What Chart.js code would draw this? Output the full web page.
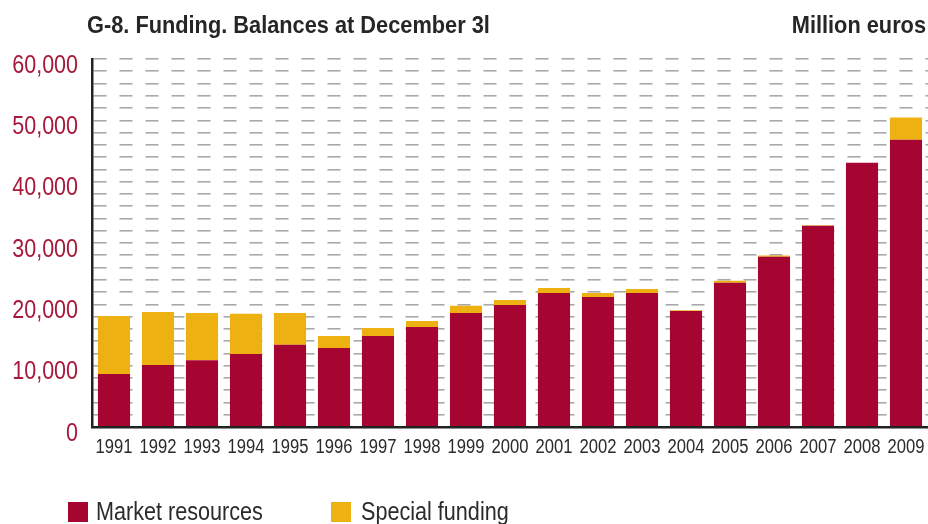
<!DOCTYPE html>
<html>
<head>
<meta charset="utf-8">
<script src="https://cdn.jsdelivr.net/npm/chart.js@4"></script>
<style>
  body { margin: 0; background: #fff; font-family: 'Liberation Sans', Arial, sans-serif; }
  #wrap { position: relative; width: 928px; height: 524px; overflow: hidden; }
  #chart { position: absolute; left: 0; top: 0; }
  .title { position: absolute; top: 13px; font-weight: bold; font-size: 24px; line-height: 1; color: #262626; white-space: nowrap; }
  .item { position: absolute; white-space: nowrap; }
  .box { position: absolute; top: 502px; width: 19.5px; height: 19.5px; }
  .lbl { position: absolute; top: 499px; font-size: 25px; line-height: 1; color: #2b2b2b; white-space: nowrap; transform: scaleX(0.864); transform-origin: left top; }
</style>
</head>
<body>
<div id="wrap">
  <canvas id="chart" width="928" height="524"></canvas>
  <div class="title" style="left:87px; transform: scaleX(0.907); transform-origin: left top;">G-8. Funding. Balances at December 3l</div>
  <div class="title" style="right:2px; transform: scaleX(0.907); transform-origin: right top;">Million euros</div>
  <div id="legend"></div>
</div>
<script>
// Balances at December 31, million euros
const years = ['1991', '1992', '1993', '1994', '1995', '1996', '1997', '1998', '1999', '2000',
               '2001', '2002', '2003', '2004', '2005', '2006', '2007', '2008', '2009'];
const marketResources = [8650, 10100, 10900, 11900, 13400, 12900, 14850, 16300, 18600, 19900,
                         21850, 21200, 21850, 18900, 23500, 27750, 32800, 43100, 46850];
const specialFunding = [9450, 8650, 7700, 6550, 5200, 1950, 1300, 1000, 1150, 800,
                        800, 650, 650, 150, 350, 200, 100, 0, 3600];
const yTicks = [0, 10000, 20000, 30000, 40000, 50000, 60000];

const seriesNames = ['Market resources', 'Special funding'];
const seriesColors = ['#a60532', '#edb111'];

const ctx = document.getElementById('chart').getContext('2d');
const family = "'Liberation Sans', Arial, sans-serif";

// draw text squeezed horizontally (the axis labels use a narrow face)
function narrowText(c, text, x, y, squeeze) {
    c.save();
    c.translate(x, y);
    c.scale(squeeze, 1);
    c.fillText(text, 0, 0);
    c.restore();
}

// tick labels, placed from the chart's own scales
const narrowTicks = {
    id: 'narrowTicks',
    afterDraw(chart) {
        const c = chart.ctx;
        const xs = chart.scales.x;
        const ys = chart.scales.y;
        c.save();
        c.textBaseline = 'alphabetic';

        c.fillStyle = '#2b2b2b';
        c.font = `20px ${family}`;
        c.textAlign = 'center';
        xs.ticks.forEach((t, i) => {
            narrowText(c, xs.getLabelForValue(t.value), xs.getPixelForTick(i), 453, 0.83);
        });

        c.fillStyle = '#a8183a';
        c.font = `25px ${family}`;
        c.textAlign = 'right';
        ys.ticks.forEach(t => {
            if (!yTicks.includes(t.value)) return;
            narrowText(c, t.value.toLocaleString('en-US'), 78, ys.getPixelForValue(t.value) + 13.5, 0.86);
        });
        c.restore();
    }
};

const myChart = new Chart(ctx, {
    type: 'bar',
    data: {
        labels: years,
        datasets: [
            { label: seriesNames[0], data: marketResources, backgroundColor: seriesColors[0] },
            { label: seriesNames[1], data: specialFunding, backgroundColor: seriesColors[1] }
        ]
    },
    options: {
        responsive: false,
        animation: false,
        layout: { padding: { top: 59, left: 0, right: 0, bottom: 0 } },
        datasets: { bar: { barPercentage: 0.73, categoryPercentage: 1 } },
        plugins: {
            legend: { display: false },
            tooltip: { enabled: false }
        },
        scales: {
            x: {
                stacked: true,
                grid: { display: false },
                border: { display: true, color: '#222', width: 2.5, z: 1 },
                ticks: { display: false, autoSkip: false },
                afterFit: s => { s.height = 97; }
            },
            y: {
                stacked: true,
                min: 0,
                max: yTicks[yTicks.length - 1],
                grid: { color: '#a9a9a9', lineWidth: 1.6, drawTicks: false },
                border: { display: true, color: '#222', width: 2.5, dash: [13, 13], z: 1 },
                ticks: { display: false, stepSize: 2000, autoSkip: false },
                afterFit: s => { s.width = 92; }
            }
        }
    },
    plugins: [narrowTicks]
});

// legend below the chart
const legend = document.getElementById('legend');
const boxX = [68, 331];
const textX = [95.5, 361];
seriesNames.forEach((name, i) => {
    const box = document.createElement('span');
    box.className = 'box';
    box.style.left = boxX[i] + 'px';
    box.style.background = seriesColors[i];
    legend.appendChild(box);

    const lbl = document.createElement('span');
    lbl.className = 'lbl';
    lbl.style.left = textX[i] + 'px';
    lbl.textContent = name;
    legend.appendChild(lbl);
});
</script>
</body>
</html>
